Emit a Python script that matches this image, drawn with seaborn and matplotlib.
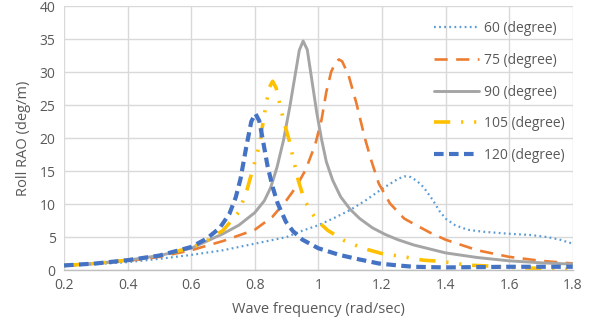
import matplotlib
matplotlib.use("Agg")
import matplotlib.pyplot as plt
import seaborn as sns
import pandas as pd

freq_60 = [0.2, 0.3, 0.4, 0.5, 0.6, 0.7, 0.8, 0.9, 0.94, 1.0, 1.05, 1.1, 1.15, 1.2, 1.25, 1.27, 1.29, 1.31, 1.33, 1.36, 1.38, 1.4, 1.43, 1.47, 1.52, 1.6, 1.67, 1.72, 1.76, 1.8]
rao_60 = [0.6, 0.9, 1.2, 1.7, 2.3, 3.0, 4.0, 5.0, 5.8, 6.8, 7.9, 9.1, 10.6, 12.3, 13.8, 14.2, 14.1, 13.5, 12.6, 10.6, 9.0, 7.8, 6.8, 6.1, 5.8, 5.5, 5.3, 5.0, 4.6, 4.0]

freq_75 = [0.2, 0.3, 0.4, 0.5, 0.6, 0.7, 0.8, 0.856, 0.9, 0.93, 0.96, 0.99, 1.01, 1.025, 1.04, 1.055, 1.065, 1.075, 1.095, 1.12, 1.145, 1.165, 1.19, 1.225, 1.27, 1.3, 1.35, 1.4, 1.5, 1.6, 1.7, 1.8]
rao_75 = [0.7, 1.0, 1.4, 2.0, 3.0, 4.4, 6.1, 8.1, 10.6, 12.6, 15.2, 19.0, 22.8, 27.0, 30.0, 31.6, 31.9, 31.6, 29.5, 25.2, 20.2, 16.8, 13.1, 10.1, 7.8, 7.0, 5.7, 4.6, 3.0, 2.0, 1.4, 1.0]

freq_90 = [0.2, 0.3, 0.4, 0.5, 0.6, 0.65, 0.7, 0.75, 0.8, 0.83, 0.85, 0.87, 0.89, 0.91, 0.925, 0.94, 0.952, 0.965, 0.98, 0.995, 1.01, 1.025, 1.045, 1.07, 1.1, 1.13, 1.17, 1.21, 1.25, 1.3, 1.4, 1.5, 1.6, 1.7, 1.8]
rao_90 = [0.7, 1.0, 1.5, 2.2, 3.3, 4.4, 5.5, 6.8, 8.7, 10.5, 12.5, 15.6, 19.6, 24.7, 29.0, 33.3, 34.7, 33.4, 28.6, 23.8, 19.8, 16.4, 13.6, 11.1, 9.2, 7.8, 6.4, 5.4, 4.6, 3.8, 2.6, 1.9, 1.4, 1.1, 0.9]

freq_105 = [0.2, 0.3, 0.4, 0.5, 0.6, 0.65, 0.7, 0.75, 0.775, 0.795, 0.815, 0.83, 0.845, 0.856, 0.867, 0.877, 0.893, 0.908, 0.92, 0.935, 0.955, 0.98, 1.0, 1.03, 1.08, 1.14, 1.2, 1.27, 1.33, 1.39, 1.47, 1.54, 1.61, 1.7, 1.8]
rao_105 = [0.7, 1.0, 1.5, 2.2, 3.4, 4.5, 6.0, 8.8, 12.1, 15.5, 19.0, 23.6, 27.6, 28.6, 27.6, 25.5, 22.2, 19.7, 17.1, 13.9, 10.7, 8.6, 7.3, 6.0, 4.5, 3.3, 2.5, 2.0, 1.5, 1.3, 0.75, 0.6, 0.4, 0.25, 0.1]

freq_120 = [0.2, 0.3, 0.4, 0.5, 0.6, 0.65, 0.69, 0.72, 0.74, 0.755, 0.773, 0.789, 0.802, 0.814, 0.825, 0.84, 0.856, 0.872, 0.898, 0.92, 0.95, 1.0, 1.066, 1.13, 1.19, 1.25, 1.3, 1.4, 1.5, 1.6, 1.7, 1.8]
rao_120 = [0.7, 1.0, 1.5, 2.2, 3.5, 4.8, 6.4, 8.5, 11.0, 13.8, 18.6, 22.5, 23.7, 22.6, 19.8, 15.8, 12.6, 10.1, 7.3, 5.9, 4.6, 3.3, 2.3, 1.6, 1.0, 0.7, 0.5, 0.4, 0.45, 0.5, 0.5, 0.5]

labels = ["60 (degree)", "75 (degree)", "90 (degree)", "105 (degree)", "120 (degree)"]
x_ticks = [0.2, 0.4, 0.6, 0.8, 1.0, 1.2, 1.4, 1.6, 1.8]
x_tick_labels = ["0.2", "0.4", "0.6", "0.8", "1", "1.2", "1.4", "1.6", "1.8"]
y_ticks = [0, 5, 10, 15, 20, 25, 30, 35, 40]

sns.set_theme(style="whitegrid")
plt.rcParams["font.family"] = ["Open Sans", "DejaVu Sans"]

fig = plt.figure(figsize=(5.95, 3.25), dpi=100)
ax = fig.add_axes([0.1076, 0.169, 0.855, 0.8125])

series = [
    (freq_60, rao_60, "#5B9BD5", 1.6, (0, (0.8, 1.5))),
    (freq_75, rao_75, "#ED7D31", 1.9, (0, (5, 3.2))),
    (freq_90, rao_90, "#A5A5A5", 2.1, "-"),
    (freq_105, rao_105, "#FFC000", 2.6, (0, (4.5, 3.0, 0.6, 3.0, 0.6, 3.0))),
    (freq_120, rao_120, "#4472C4", 3.0, (0, (2.3, 1.3))),
]
for (fx, fy, col, lw, ls), lab in zip(series, labels):
    df = pd.DataFrame({"freq": fx, "rao": fy})
    sns.lineplot(data=df, x="freq", y="rao", ax=ax, color=col, linewidth=lw,
                 linestyle=ls, label=lab, sort=False)
    ax.lines[-1].set_dash_capstyle("butt")
    ax.lines[-1].set_solid_joinstyle("round")

ax.set_xlim(0.2, 1.8)
ax.set_ylim(0, 40)
ax.set_xticks(x_ticks)
ax.set_xticklabels(x_tick_labels)
ax.set_yticks(y_ticks)
ax.grid(True, color="#D9D9D9", linewidth=1.0)
for s in ["top", "right", "left"]:
    ax.spines[s].set_visible(False)
ax.spines["bottom"].set_color("#BFBFBF")
ax.spines["bottom"].set_linewidth(1.0)
ax.tick_params(axis="both", length=0, labelsize=10, colors="#595959", pad=6)
ax.set_xlabel("Wave frequency (rad/sec)", fontsize=10.5, color="#595959", labelpad=6)
ax.set_ylabel("Roll RAO (deg/m)", fontsize=10.5, color="#595959", labelpad=6)

leg = ax.legend(loc="upper right", bbox_to_anchor=(1.0, 0.974), frameon=False,
                fontsize=10, labelspacing=1.2, handlelength=3.3, handletextpad=0.3,
                borderaxespad=0.2)
for t in leg.get_texts():
    t.set_color("#595959")

fig.savefig("out.png", dpi=100)
